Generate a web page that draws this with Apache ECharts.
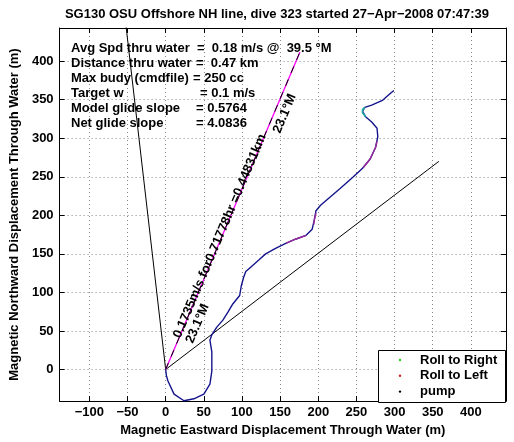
<!DOCTYPE html>
<html><head><meta charset="utf-8">
<script src="https://cdn.jsdelivr.net/npm/echarts@6/dist/echarts.min.js"></script>
<style>html,body{margin:0;padding:0;background:#fff}#c{width:514px;height:442px}</style>
</head><body><div id="c"></div>
<script>
// ---- data ----
const titleText = 'SG130 OSU Offshore NH line, dive 323 started 27\u2212Apr\u22122008 07:47:39';
const xName = 'Magnetic Eastward Displacement Through Water (m)';
const yName = 'Magnetic Northward Displacement Through Water (m)';
const xTicks = [-100, -50, 0, 50, 100, 150, 200, 250, 300, 350, 400];
const yTicks = [0, 50, 100, 150, 200, 250, 300, 350, 400];
const xRange = [-139, 446];
const yRange = [-41, 443];

// glider track (through water)
const trackX = [0, 1, 3, 11, 24, 37, 50, 58, 60.5, 60.5, 58, 60.5, 67, 75, 82, 88, 97, 99, 102, 105, 114, 122, 131, 144, 158, 170, 184, 192, 195, 197, 203, 216, 229, 246, 258, 268, 275, 278, 277, 270, 262, 258, 261, 270, 284, 292, 299];
const trackY = [0, -8, -15, -32, -40.5, -38, -32, -19, -2, 23, 38, 45, 55, 64, 75, 85, 96, 108, 119, 127, 135, 142, 150, 157, 164, 169, 174, 182, 195, 206, 213, 224, 235, 250, 261, 273, 288, 302, 313, 321, 328, 335, 340, 343, 349, 356, 362];
// coloured portions of the track
const magentaX = [158, 170, 184, null, 194, 195, 197, null, 259, 268, 275, 277];
const magentaY = [164, 169, 174, null, 188, 195, 203, null, 262, 273, 288, 296];
const tealX = [262, 258, 258, 261];
const tealY = [328, 333, 337, 340];

// reference lines from the dive start
const leftLineX = [0, -52];
const leftLineY = [0, 446];
const rightLineX = [0, 358];
const rightLineY = [0, 270];
const meanLineX = [0, 176];
const meanLineY = [0, 412];

const infoLabels = ['Avg Spd thru water', 'Distance thru water', 'Max budy (cmdfile)', 'Target w', 'Model glide slope', 'Net glide slope'];
const infoValues = ['=  0.18 m/s @  39.5 \u00b0M', '=  0.47 km', '= 250 cc', '= 0.1 m/s', '= 0.5764', '= 4.0836'];
const meanLabel1 = '0.1735m/s for0.71778hr =0.44831km';
const meanLabel2 = '23.1\u00b0M';
const legendNames = ['Roll to Right', 'Roll to Left', 'pump'];
const legendColors = ['#22cc22', '#cc2222', '#000000'];

function zip(a, b) { return a.map((v, i) => (v === null ? null : [v, b[i]])); }

const FONT = '"Liberation Sans", Arial, Helvetica, sans-serif';
const FS = 13;
const chart = echarts.init(document.getElementById('c'), null, { renderer: 'canvas' });

function xAxisCfg(pos) {
  return {
    type: 'value', position: pos, min: xRange[0], max: xRange[1],
    axisLine: { show: true, onZero: false, lineStyle: { color: '#000', width: 1 } },
    axisTick: { show: true, inside: true, length: 5, customValues: xTicks, lineStyle: { color: '#000' } },
    axisLabel: pos === 'bottom' ? { show: true, customValues: xTicks, color: '#000', fontFamily: FONT, fontWeight: 'bold', fontSize: FS, margin: 5,
      formatter: v => String(v).replace('-', '\u2212') } : { show: false },
    splitLine: { show: pos === 'bottom', lineStyle: { color: '#888', type: [1, 3], width: 1 } },
    name: pos === 'bottom' ? xName : '', nameLocation: 'middle', nameGap: 20,
    nameTextStyle: { color: '#000', fontFamily: FONT, fontWeight: 'bold', fontSize: FS }
  };
}
function yAxisCfg(pos) {
  return {
    type: 'value', position: pos, min: yRange[0], max: yRange[1],
    axisLine: { show: true, onZero: false, lineStyle: { color: '#000', width: 1 } },
    axisTick: { show: true, inside: true, length: 5, customValues: yTicks, lineStyle: { color: '#000' } },
    axisLabel: pos === 'left' ? { show: true, customValues: yTicks, color: '#000', fontFamily: FONT, fontWeight: 'bold', fontSize: FS, margin: 6 } : { show: false },
    splitLine: { show: pos === 'left', lineStyle: { color: '#888', type: [1, 3], width: 1 } },
    name: pos === 'left' ? yName : '', nameLocation: 'middle', nameGap: 33, nameRotate: 90,
    nameTextStyle: { color: '#000', fontFamily: FONT, fontWeight: 'bold', fontSize: FS }
  };
}

function lineSeries(data, color, width, type, z) {
  return { type: 'line', data: data, symbol: 'none', clip: true, connectNulls: false, z: z || 2,
    lineStyle: { color: color, width: width, type: type || 'solid' }, silent: true };
}

chart.setOption({
  animation: false,
  backgroundColor: '#fff',
  grid: { left: 48, right: 8, top: 28, bottom: 35 },
  xAxis: [xAxisCfg('bottom'), xAxisCfg('top')],
  yAxis: [yAxisCfg('left'), yAxisCfg('right')],
  series: [
    lineSeries(zip(leftLineX, leftLineY), '#000', 1),
    lineSeries(zip(rightLineX, rightLineY), '#000', 1),
    lineSeries(zip(meanLineX, meanLineY), '#ff00ff', 1.3, 'solid', 3),
    lineSeries(zip(meanLineX, meanLineY), '#000', 1, [7, 7], 4),
    lineSeries(zip(trackX, trackY), '#14148c', 1.4, 'solid', 5),
    lineSeries(zip(magentaX, magentaY), '#9a2a9a', 1.4, 'solid', 6),
    lineSeries(zip(tealX, tealY), '#22a8a0', 1.7, 'solid', 6)
  ]
});

// ---- annotations ----
const g = [];
const gx0 = 48, gx1 = 506;
g.push({ type: 'text', x: (gx0 + gx1) / 2, y: 14, z: 10,
  style: { text: titleText, fill: '#000', font: 'bold 13px ' + FONT, align: 'center', verticalAlign: 'middle' } });
infoLabels.forEach((t, i) => {
  const yy = 48.5 + 15 * i;
  g.push({ type: 'text', x: 71, y: yy, z: 10, style: { text: t, fill: '#000', font: 'bold ' + FS + 'px ' + FONT, verticalAlign: 'middle' } });
});
const valX = [197, 196, 193, 200, 196, 196];
infoValues.forEach((t, i) => {
  const yy = 48.5 + 15 * i;
  g.push({ type: 'text', x: valX[i], y: yy, z: 10, style: { text: t, fill: '#000', font: 'bold ' + FS + 'px ' + FONT, verticalAlign: 'middle' } });
});

// rotated labels along mean line
const o = chart.convertToPixel({ gridIndex: 0 }, [meanLineX[0], meanLineY[0]]);
const e = chart.convertToPixel({ gridIndex: 0 }, [meanLineX[1], meanLineY[1]]);
const L = Math.hypot(e[0] - o[0], e[1] - o[1]);
const ux = (e[0] - o[0]) / L, uy = (e[1] - o[1]) / L;   // along line
const px = -uy, py = ux;                                // perpendicular (right/down side)
const rot = Math.atan2(-uy, ux);
function along(d, p) { return [o[0] + ux * d + px * p, o[1] + uy * d + py * p]; }
let a = along(34, -2);
g.push({ type: 'text', x: a[0], y: a[1], rotation: rot, z: 10,
  style: { text: meanLabel1, fill: '#000', font: 'bold ' + FS + 'px ' + FONT, align: 'left', verticalAlign: 'middle' } });
a = along(34, 11.5);
g.push({ type: 'text', x: a[0], y: a[1], rotation: rot, z: 10,
  style: { text: meanLabel2, fill: '#000', font: 'bold ' + FS + 'px ' + FONT, align: 'left', verticalAlign: 'middle' } });
a = along(282, 10);
g.push({ type: 'text', x: a[0], y: a[1], rotation: rot, z: 10,
  style: { text: meanLabel2, fill: '#000', font: 'bold ' + FS + 'px ' + FONT, align: 'center', verticalAlign: 'middle' } });

// legend box
g.push({ type: 'rect', shape: { x: 378.5, y: 350.5, width: 127, height: 52 }, z: 20,
  style: { fill: '#fff', stroke: '#000', lineWidth: 1 } });
legendNames.forEach((n, i) => {
  const yy = 360 + 15.8 * i;
  g.push({ type: 'circle', shape: { cx: 400, cy: yy, r: 1.2 }, z: 21, style: { fill: legendColors[i] } });
  g.push({ type: 'text', x: 420, y: yy, z: 21, style: { text: n, fill: '#000', font: 'bold ' + FS + 'px ' + FONT, verticalAlign: 'middle' } });
});

chart.setOption({ graphic: g });
</script></body></html>
